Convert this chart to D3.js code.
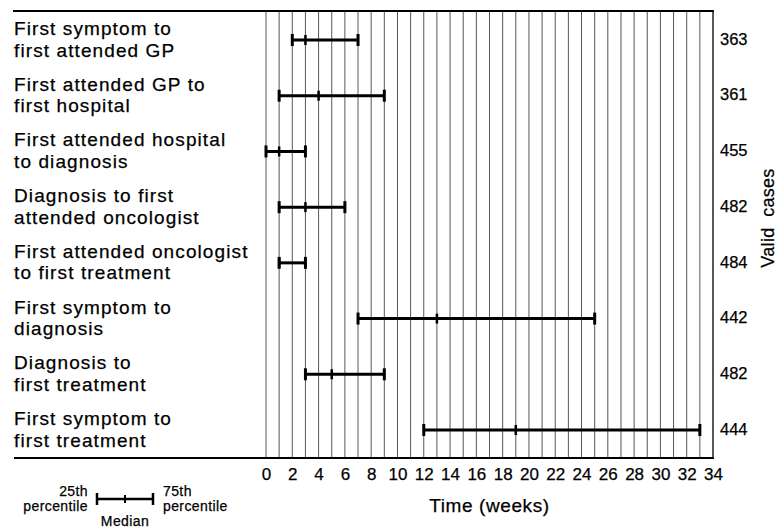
<!DOCTYPE html>
<html>
<head>
<meta charset="utf-8">
<script src="https://cdn.jsdelivr.net/npm/d3@7"></script>
<style>
  body { margin: 0; background: #fff; }
  svg { display: block; font-family: "Liberation Sans", Arial, Helvetica, sans-serif; }
  svg text { stroke: #000; stroke-width: 0.25; }
</style>
</head>
<body>
<svg></svg>
<script>
// intervals, in weeks
const stages = [
  ["First symptom to", "first attended GP"],
  ["First attended GP to", "first hospital"],
  ["First attended hospital", "to diagnosis"],
  ["Diagnosis to first", "attended oncologist"],
  ["First attended oncologist", "to first treatment"],
  ["First symptom to", "diagnosis"],
  ["Diagnosis to", "first treatment"],
  ["First symptom to", "first treatment"]
];
const p25 = [2, 1, 0, 1, 1, 7, 3, 12];
const median = [3, 4, 1, 3, 1, 13, 5, 19];
const p75 = [7, 9, 3, 6, 3, 25, 9, 33];
const validCases = [363, 361, 455, 482, 484, 442, 482, 444];
const weekTicks = [0, 2, 4, 6, 8, 10, 12, 14, 16, 18, 20, 22, 24, 26, 28, 30, 32, 34];
const weekLines = d3.range(0, 35);

const width = 778;
const height = 528;

const svg = d3.select("svg")
    .attr("width", width)
    .attr("height", height);

const rows = stages.map((s, i) => ({
    label: s, lo: p25[i], mid: median[i], hi: p75[i], n: validCases[i], i: i
}));

const x = d3.scaleLinear().domain([0, 34]).range([266, 713]);
const y = d3.scalePoint().domain(d3.range(rows.length)).range([40, 430]);

const yTop = 11, yBottom = 458;

// vertical week lines
svg.append("g")
    .selectAll("line")
    .data(weekLines)
    .enter().append("line")
    .attr("x1", d => x(d)).attr("x2", d => x(d))
    .attr("y1", yTop).attr("y2", yBottom)
    .attr("stroke", "#444")
    .attr("stroke-width", 0.9);

// frame
svg.append("line")
    .attr("x1", 13).attr("x2", x(34) + 1)
    .attr("y1", yTop).attr("y2", yTop)
    .attr("stroke", "#000").attr("stroke-width", 2);
svg.append("line")
    .attr("x1", 14).attr("x2", x(34) + 1)
    .attr("y1", yBottom).attr("y2", yBottom)
    .attr("stroke", "#000").attr("stroke-width", 2);
svg.append("line")
    .attr("x1", x(34)).attr("x2", x(34))
    .attr("y1", yTop).attr("y2", yBottom)
    .attr("stroke", "#222").attr("stroke-width", 1.2);

// x axis labels
const axis = d3.axisBottom(x).tickValues(weekTicks).tickSize(0).tickPadding(0);
const gx = svg.append("g")
    .attr("transform", `translate(0,${yBottom + 10})`)
    .call(axis);
gx.select(".domain").remove();
gx.selectAll("text")
    .attr("fill", "#000")
    .attr("font-size", 17)
    .attr("font-family", "\"Liberation Sans\", Arial, sans-serif");

svg.append("text")
    .attr("x", (x(0) + x(34)) / 2)
    .attr("y", 512)
    .attr("text-anchor", "middle")
    .attr("font-size", 19)
    .attr("letter-spacing", 0.6)
    .text("Time (weeks)");

// row labels, two lines each
const lab = svg.append("g")
    .selectAll("text")
    .data(rows)
    .enter().append("text")
    .attr("x", 14)
    .attr("font-size", 19)
    .attr("letter-spacing", 1.1);
lab.append("tspan")
    .attr("x", 14)
    .attr("y", d => y(d.i) - 5)
    .text(d => d.label[0]);
lab.append("tspan")
    .attr("x", 14)
    .attr("y", d => y(d.i) + 16.5)
    .text(d => d.label[1]);

// interval bars
const bars = svg.append("g")
    .selectAll("g")
    .data(rows)
    .enter().append("g")
    .attr("transform", d => `translate(0,${y(d.i)})`);

bars.append("line")
    .attr("x1", d => x(d.lo)).attr("x2", d => x(d.hi))
    .attr("stroke", "#000").attr("stroke-width", 3);
bars.append("line")
    .attr("x1", d => x(d.lo)).attr("x2", d => x(d.lo))
    .attr("y1", -6).attr("y2", 6)
    .attr("stroke", "#000").attr("stroke-width", 3);
bars.append("line")
    .attr("x1", d => x(d.hi)).attr("x2", d => x(d.hi))
    .attr("y1", -6).attr("y2", 6)
    .attr("stroke", "#000").attr("stroke-width", 3);
bars.append("line")
    .attr("x1", d => x(d.mid)).attr("x2", d => x(d.mid))
    .attr("y1", -5).attr("y2", 5)
    .attr("stroke", "#000").attr("stroke-width", 2.5);

// valid cases
svg.append("g")
    .selectAll("text")
    .data(rows)
    .enter().append("text")
    .attr("x", 720)
    .attr("y", d => y(d.i) - 1)
    .attr("dy", "0.35em")
    .attr("font-size", 16.5)
    .text(d => d.n);

svg.append("text")
    .attr("transform", "translate(774,218) rotate(-90)")
    .attr("text-anchor", "middle")
    .attr("font-size", 18)
    .attr("letter-spacing", 0.3)
    .attr("xml:space", "preserve")
    .text("Valid  cases");

// legend
const lx = d3.scaleLinear().domain([0, 2]).range([97, 153]);
const legend = svg.append("g").attr("transform", "translate(0,499)");
legend.append("line")
    .attr("x1", lx(0)).attr("x2", lx(2))
    .attr("stroke", "#000").attr("stroke-width", 2.5);
legend.selectAll(".cap")
    .data([0, 2])
    .enter().append("line")
    .attr("x1", d => lx(d)).attr("x2", d => lx(d))
    .attr("y1", -6).attr("y2", 6)
    .attr("stroke", "#000").attr("stroke-width", 2.5);
legend.append("line")
    .attr("x1", lx(1)).attr("x2", lx(1))
    .attr("y1", -4).attr("y2", 4)
    .attr("stroke", "#000").attr("stroke-width", 2);

const legText = [
    { t: "25th", x: 88, y: -3, a: "end" },
    { t: "percentile", x: 88, y: 12, a: "end" },
    { t: "75th", x: 163, y: -3, a: "start" },
    { t: "percentile", x: 163, y: 12, a: "start" },
    { t: "Median", x: lx(1), y: 27, a: "middle" }
];
legend.selectAll(".lt")
    .data(legText)
    .enter().append("text")
    .attr("x", d => d.x)
    .attr("y", d => d.y)
    .attr("text-anchor", d => d.a)
    .attr("font-size", 14)
    .attr("letter-spacing", 0.4)
    .text(d => d.t);
</script>
</body>
</html>
